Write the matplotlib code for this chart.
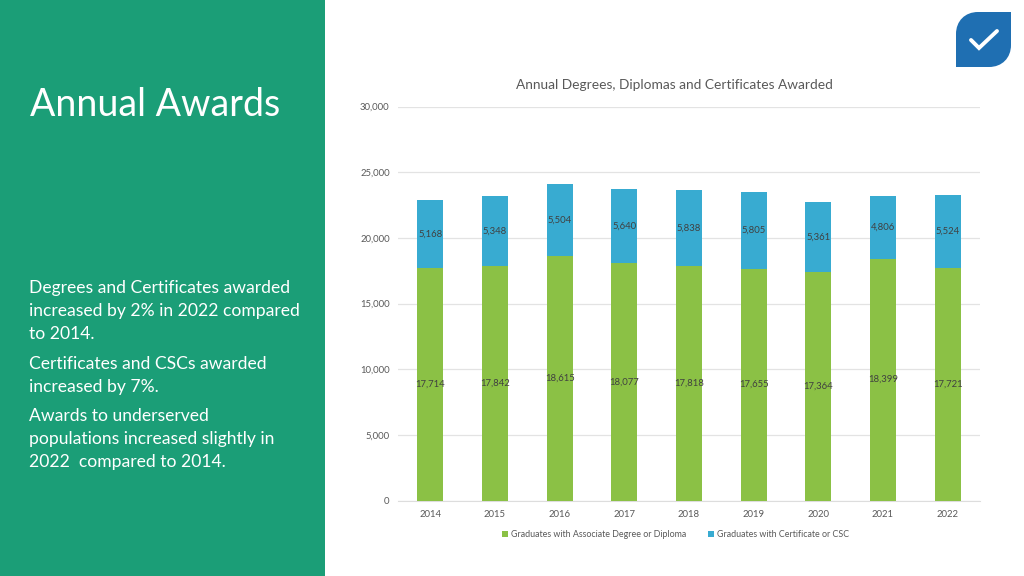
import matplotlib
matplotlib.use('Agg')
import matplotlib.pyplot as plt
from matplotlib.patches import Rectangle, PathPatch
from matplotlib.path import Path

plt.rcParams['font.family'] = ['Lato', 'DejaVu Sans']

# data
years = ['2014', '2015', '2016', '2017', '2018', '2019', '2020', '2021', '2022']
associate = [17714, 17842, 18615, 18077, 17818, 17655, 17364, 18399, 17721]
certificate = [5168, 5348, 5504, 5640, 5838, 5805, 5361, 4806, 5524]
y_ticks = [0, 5000, 10000, 15000, 20000, 25000, 30000]

W, H = 1024, 576
fig = plt.figure(figsize=(W / 100, H / 100), dpi=100, facecolor='white')

# background layer in pixel coordinates
bg = fig.add_axes([0, 0, 1, 1])
bg.set_xlim(0, W)
bg.set_ylim(H, 0)
bg.axis('off')
bg.add_patch(Rectangle((0, 0), 325, H, color='#1B9E77', lw=0))

bg.text(30, 105, 'Annual Awards', fontsize=27, color='white', va='center', ha='left')

side_text = [
    (288, 'Degrees and Certificates awarded'),
    (311, 'increased by 2% in 2022 compared'),
    (334, 'to 2014.'),
    (364, 'Certificates and CSCs awarded'),
    (387, 'increased by 7%.'),
    (416, 'Awards to underserved'),
    (439, 'populations increased slightly in'),
    (462, '2022  compared to 2014.'),
]
for y, line in side_text:
    bg.text(29, y, line, fontsize=12.6, color='white', va='center', ha='left')

# check mark icon
verts = [(978, 12), (1011, 12), (1011, 45), (1011, 58), (1002, 67), (989, 67),
         (956, 67), (956, 34), (956, 21), (965, 12), (978, 12)]
codes = [Path.MOVETO, Path.LINETO, Path.LINETO, Path.CURVE4, Path.CURVE4, Path.CURVE4,
         Path.LINETO, Path.LINETO, Path.CURVE4, Path.CURVE4, Path.CURVE4]
bg.add_patch(PathPatch(Path(verts, codes), facecolor='#1F6FB2', edgecolor='none'))
bg.plot([971, 979, 997], [40, 48, 31], color='white', lw=2.8, solid_capstyle='round',
        solid_joinstyle='miter')

# chart
ax = fig.add_axes([398 / W, 1 - 500.5 / H, 582 / W, 394 / H])
ax.patch.set_alpha(0)
x = list(range(len(years)))
green = '#8BC145'
blue = '#38ABD1'
ax.bar(x, associate, width=0.4, color=green, label='Graduates with Associate Degree or Diploma', zorder=3)
ax.bar(x, certificate, width=0.4, bottom=associate, color=blue, label='Graduates with Certificate or CSC', zorder=3)

for i in x:
    ax.text(i, associate[i] / 2, f'{associate[i]:,}', ha='center', va='center',
            fontsize=6.8, color='#404040', zorder=4)
    ax.text(i, associate[i] + certificate[i] / 2, f'{certificate[i]:,}', ha='center', va='center',
            fontsize=6.8, color='#404040', zorder=4)

ax.set_xlim(-0.5, 8.5)
ax.set_ylim(0, 30000)
ax.set_xticks(x, years)
ax.set_yticks(y_ticks, [f'{v:,}' for v in y_ticks])
ax.tick_params(length=0, labelsize=6.8, labelcolor='#595959')
ax.tick_params(axis='x', pad=6.5)
ax.tick_params(axis='y', pad=6)
ax.grid(axis='y', color='#E3E3E3', lw=0.9, zorder=0)
ax.set_axisbelow(True)
for side in ['top', 'right', 'left']:
    ax.spines[side].set_visible(False)
ax.spines['bottom'].set_color('#DDDDDD')

fig.text(674 / W, 1 - 85 / H, 'Annual Degrees, Diplomas and Certificates Awarded',
         fontsize=9.9, color='#595959', ha='center', va='center')

fig.legend(loc='center', bbox_to_anchor=(675.5 / W, 1 - 534.5 / H), ncol=2, frameon=False,
           fontsize=6.4, labelcolor='#595959', handlelength=0.7, handleheight=0.7,
           handletextpad=0.3, columnspacing=2.4)

fig.savefig('out.png', dpi=100)
